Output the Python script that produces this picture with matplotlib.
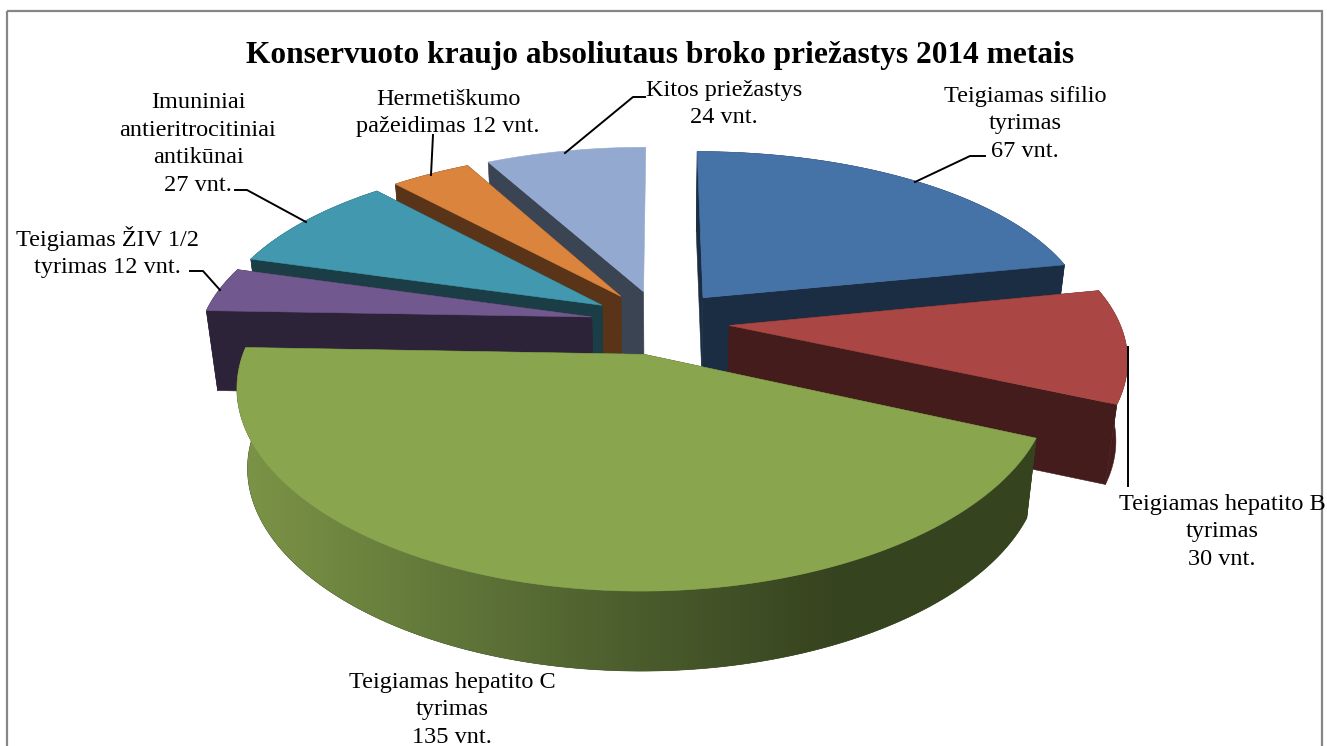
import matplotlib
matplotlib.use('Agg')
import matplotlib.pyplot as plt
import numpy as np
from matplotlib.colors import LinearSegmentedColormap

plt.rcParams['font.family'] = ['Liberation Serif', 'DejaVu Serif']

values = [67, 30, 135, 12, 27, 12, 24]
top_colors = ['#4572A7', '#AA4643', '#89A54E', '#71588F', '#4198AF', '#DB843D', '#93A9CF']
wall_colors = ['#1B2D43', '#441C1B', '#36431F', '#2D2339', '#1A3D46', '#5A3418', '#3B4453']
# back to front
draw_order = [6, 5, 4, 0, 3, 1, 2]

labels = ['Teigiamas sifilio\ntyrimas\n67 vnt.',
          'Teigiamas hepatito B\ntyrimas\n30 vnt.',
          'Teigiamas hepatito C\ntyrimas\n135 vnt.',
          'Teigiamas ŽIV 1/2\ntyrimas 12 vnt.',
          'Imuniniai\nantieritrocitiniai\nantikūnai\n27 vnt.',
          'Hermetiškumo\npažeidimas 12 vnt.',
          'Kitos priežastys\n24 vnt.']
label_x = [1025, 1222, 452, 107, 198, 448, 724]
label_y = [124, 532, 710, 252, 144, 113, 104]
leaders = [[(915, 182), (970, 156), (985, 156)],
           [(1128, 347), (1128, 486)],
           None,
           [(190, 271), (203, 271), (220, 290)],
           [(235, 190), (247, 190), (306, 222)],
           [(431, 175), (433, 135)],
           [(565, 153), (633, 97), (645, 97)]]

title = 'Konservuoto kraujo absoliutaus broko priežastys 2014 metais'

# pie geometry, pixels
cx, cy = 660, 322
R = 390
A = 180.6
persp_x = 0.16
persp_y = 0.181
explode = 0.178
wall_h = 80
wall_scale = 0.975


def top_xy(wx, wy):
    return cx + R * wx / (1 + persp_x * wy), cy - A * wy / (1 + persp_y * wy)


def bottom_xy(x, y):
    return cx + (x - cx) * wall_scale, y + wall_h


fig = plt.figure(figsize=(13.27, 7.46), dpi=100)
ax = fig.add_axes([0, 0, 1, 1])
ax.axis('off')

ax.add_patch(plt.Rectangle((6.5, 10.5), 1315, 760, fill=False, ec='#868686', lw=1.6))

fractions = np.array(values) / sum(values)
edges = np.concatenate([[0], np.cumsum(fractions)]) * 2 * np.pi
green_cmap = LinearSegmentedColormap.from_list('rim', ['#7C9446', '#62783A', '#4A5C2C', '#36431F', '#36431F'])

for z, i in enumerate(draw_order):
    z = z + 2
    a0, a1 = edges[i], edges[i + 1]
    mid = (a0 + a1) / 2
    ox, oy = explode * np.sin(mid), explode * np.cos(mid)
    ang = np.linspace(a0, a1, 160)
    rx, ry = top_xy(ox + np.sin(ang), oy + np.cos(ang))
    tx, ty = top_xy(ox, oy)
    bx, by = bottom_xy(rx, ry)
    btx, bty = bottom_xy(tx, ty)

    # outer wall, the last slice's rim faces away
    if i == 2:
        rim = ax.fill(np.r_[rx, bx[::-1]], np.r_[ry, by[::-1]], color=wall_colors[i], lw=0.4, zorder=z)[0]
        im = ax.imshow(np.linspace(0, 1, 256).reshape(1, -1), cmap=green_cmap, aspect='auto',
                       extent=(240, 1040, 760, 300), zorder=z)
        im.set_clip_path(rim)
    elif i != 6:
        ax.fill(np.r_[rx, bx[::-1]], np.r_[ry, by[::-1]], color=wall_colors[i], lw=0.4, zorder=z)

    # cut walls, the last slice's closing wall faces away too
    for k in [0, -1]:
        if i == 6 and k == -1:
            continue
        ax.fill([tx, rx[k], bx[k], btx], [ty, ry[k], by[k], bty], color=wall_colors[i], lw=0.4, zorder=z)

    ax.fill(np.r_[tx, rx], np.r_[ty, ry], color=top_colors[i], lw=0.4, zorder=z)

for pts in leaders:
    if pts is not None:
        ax.plot([p[0] for p in pts], [p[1] for p in pts], color='black', lw=1.4, zorder=20)

for s, x, y in zip(labels, label_x, label_y):
    ax.text(x, y, s, ha='center', va='center', fontsize=17.5, linespacing=1.4, color='black', zorder=21)

ax.text(660, 55, title, ha='center', va='center', fontsize=22.6, fontweight='bold', color='black', zorder=21)

ax.set_xlim(0, 1327)
ax.set_ylim(746, 0)
fig.savefig('out.png', dpi=100)
